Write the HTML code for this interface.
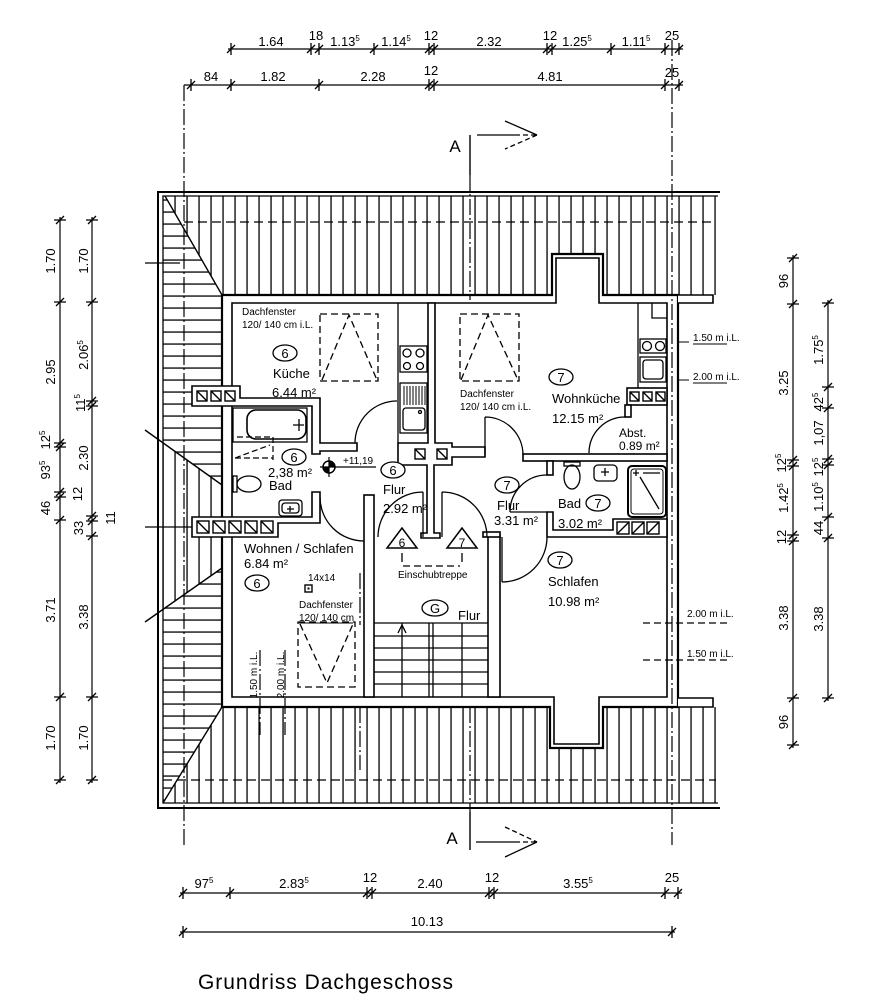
<!DOCTYPE html>
<html><head><meta charset="utf-8"><style>
html,body{margin:0;padding:0;background:#fff;}
svg{display:block;}
text{font-family:"Liberation Sans",Arial,sans-serif;fill:#000;}
</style></head><body>
<svg xmlns="http://www.w3.org/2000/svg" width="889" height="1000" viewBox="0 0 889 1000">
<defs>
<pattern id="pv" patternUnits="userSpaceOnUse" width="12" height="12"><rect x="6.4" y="0" width="1.3" height="12" fill="#000"/></pattern>
<pattern id="ph" patternUnits="userSpaceOnUse" width="12" height="12"><rect x="0" y="7.4" width="12" height="1.3" fill="#000"/></pattern>
<g id="th"><path d="M0,-6V6M-4,4L4,-4" stroke="#000" stroke-width="1.3" fill="none"/></g>
<g id="tv"><path d="M-6,0H6M-4,4L4,-4" stroke="#000" stroke-width="1.3" fill="none"/></g>
</defs>
<rect width="889" height="1000" fill="#fff"/>

<!-- roof hatching -->
<polygon points="165,196 716,196 716,295 603,295 603,254 552,254 552,295 222,295" fill="url(#pv)"/>
<polygon points="163,196 165,196 222,295 222,485 163,443" fill="url(#ph)"/>
<polygon points="163,443 222,485 222,568 163,609" fill="url(#pv)"/>
<polygon points="163,609 222,568 222,707 163,803" fill="url(#ph)"/>
<polygon points="222,707 550,707 550,748 603,748 603,707 716,707 716,803 163,803" fill="url(#pv)"/>
<g stroke="#000" fill="none">
<path d="M720,192H158V808H720" stroke-width="2"/>
<path d="M718,196H163V803H718" stroke-width="1.3"/>
<path d="M165,196L222,295M222,707L163,803M145,430L222,485M145,622L222,568" stroke-width="1.4"/>
<path d="M145,263H180M145,527H192" stroke-width="1.2"/>
<path d="M184,222H716M163,780H716" stroke-width="1.2" stroke-dasharray="9,5"/>
</g>

<!-- house shell -->
<path d="M222,295H552V254H603V295H678V707H603V748H550V707H222Z" fill="#fff" stroke="#000" stroke-width="2.2"/>
<path d="M232,303H556V258H599V303H667V697H599V744H554V697H232Z" fill="none" stroke="#000" stroke-width="1.6"/>
<path d="M678,295H713V303H678M678,698H713V707H678" fill="#fff" stroke="#000" stroke-width="1.6"/>

<!-- grid / axis lines -->
<g stroke="#000" stroke-width="1.2" fill="none" stroke-dasharray="16,3,2,3">
<path d="M184,85V845"/>
<path d="M672,40V845"/>
<path d="M470,175V300M470,707V812"/>
<path d="M360,573V625M360,707V770"/>
<path d="M260,650V735M285,650V735"/>
</g>
<path d="M470,135V175M470,812V850" stroke="#000" stroke-width="1.4"/>

<!-- interior walls -->
<g fill="#fff" stroke="#000" stroke-width="1.6">
<path d="M192,386H240V398H320V443H357V451H320V454H312V406H192Z"/>
<path d="M192,517H312V492H320V523H278V537H192Z"/>
<path d="M428,303H435V443H452V447H485V457H452V465H434V533H440V538H421V533H427V465H398V443H428Z"/>
<rect x="364" y="495" width="10" height="202"/>
<rect x="488" y="535" width="12" height="162"/>
<rect x="483" y="532" width="17" height="5"/>
<rect x="523" y="454" width="144" height="7"/>
<rect x="627" y="388" width="40" height="17"/>
<rect x="625" y="405" width="6" height="12"/>
<rect x="547" y="461" width="6" height="14"/>
<path d="M547,512H553V530H613V519H667V537H547Z"/>
</g>
<!-- flue squares -->
<g fill="#fff" stroke="#000" stroke-width="1.4">
<rect x="197" y="391" width="10" height="10"/><rect x="211" y="391" width="10" height="10"/><rect x="225" y="391" width="10" height="10"/>
<path d="M197,391l10,10M211,391l10,10M225,391l10,10"/>
<rect x="197" y="521" width="12" height="12"/><rect x="213" y="521" width="12" height="12"/><rect x="229" y="521" width="12" height="12"/><rect x="245" y="521" width="12" height="12"/><rect x="261" y="521" width="12" height="12"/>
<path d="M197,521l12,12M213,521l12,12M229,521l12,12M245,521l12,12M261,521l12,12"/>
<rect x="415" y="449" width="10" height="10"/><rect x="437" y="449" width="10" height="10"/>
<path d="M415,449l10,10M437,449l10,10"/>
<rect x="630" y="392" width="9" height="9"/><rect x="643" y="392" width="9" height="9"/><rect x="656" y="392" width="9" height="9"/>
<path d="M630,392l9,9M643,392l9,9M656,392l9,9"/>
<rect x="617" y="522" width="12" height="12"/><rect x="632" y="522" width="12" height="12"/><rect x="647" y="522" width="12" height="12"/>
<path d="M617,534l12,-12M632,534l12,-12M647,534l12,-12"/>
</g>

<!-- doors -->
<g stroke="#000" stroke-width="1.3" fill="none">
<path d="M355,443A42,42 0 0,1 397,401"/>
<path d="M320,497A44,44 0 0,0 364,541"/>
<path d="M378,537A45,45 0 0,1 423,492M423,492V537"/>
<path d="M442,492A45,45 0 0,1 487,537M442,492V537"/>
<path d="M485,417A38,38 0 0,1 523,455M485,417V455"/>
<path d="M625,417A36,36 0 0,0 589,453"/>
<path d="M510,512A37,37 0 0,1 547,475M510,512H547"/>
<path d="M547,537A45,45 0 0,1 502,582M502,537V582"/>
</g>

<!-- kitchen fixtures -->
<g stroke="#000" stroke-width="1.3" fill="none">
<path d="M398,303V443"/>
<rect x="400" y="346" width="27" height="26"/>
<circle cx="407" cy="353" r="4"/><circle cx="420" cy="353" r="4"/><circle cx="407" cy="366" r="3.5"/><circle cx="420" cy="366" r="3.5"/>
<rect x="400" y="383" width="27" height="50"/>
<path d="M404,386V405M407,386V405M410,386V405M413,386V405M416,386V405M419,386V405M422,386V405M425,386V405" stroke-width="1"/>
<rect x="403" y="408" width="22" height="22" rx="3"/>
<circle cx="420" cy="412" r="1.5"/>
<!-- Wohnküche counter -->
<path d="M638,303V388M652,303V318H667"/>
<rect x="640" y="339" width="26" height="14"/>
<circle cx="647" cy="346" r="4.5"/><circle cx="660" cy="346" r="4.5"/>
<rect x="640" y="357" width="26" height="25"/>
<rect x="643" y="360" width="20" height="19" rx="3"/>
<!-- bath 6 -->
<rect x="233" y="408" width="74" height="34"/>
<rect x="247" y="410" width="59" height="29" rx="9" stroke-width="1.6"/>
<path d="M293,425H304M299,419V431"/>
<path d="M237,437H271M273,437V460M235,458H273M235,458L270,445" stroke-dasharray="6,3" stroke-width="1.2"/>
<rect x="233" y="476" width="4" height="16"/>
<ellipse cx="249" cy="484" rx="12" ry="8"/>
<rect x="279" y="500" width="23" height="16" rx="3"/>
<rect x="282" y="503" width="17" height="10" rx="3"/>
<path d="M287,509H294M290,506V512"/>
<!-- bath 7 -->
<rect x="564" y="462" width="16" height="4"/>
<ellipse cx="572" cy="477" rx="8" ry="12"/>
<rect x="594" y="465" width="23" height="16" rx="4"/>
<path d="M601,472H609M605,468V476"/>
<rect x="628" y="466" width="38" height="51" rx="4" stroke-width="2"/>
<rect x="631" y="469" width="32" height="45" rx="3" stroke-width="1"/>
<path d="M640,477L659,509M633,473H639M636,470V476M643,473H660"/>
</g>

<!-- Dachfenster dashed -->
<g stroke="#000" stroke-width="1.3" fill="none" stroke-dasharray="7,4">
<rect x="320" y="314" width="58" height="67"/>
<path d="M322,380L349,315L377,380"/>
<rect x="460" y="314" width="59" height="67"/>
<path d="M461,380L488,315L518,380"/>
<rect x="298" y="622" width="57" height="65"/>
<path d="M300,624L327,683L353,624"/>
<path d="M643,623H730M643,660H730"/>
<path d="M403,566H460"/>
</g>

<!-- stairs -->
<g stroke="#000" stroke-width="1.3" fill="none">
<path d="M374,623H488M374,636H488M374,648H488M374,660H488M374,672H488M374,684H488"/>
<path d="M402,623V697M462,623V697M429,623V697M433,623V697"/>
<path d="M398,633L402,625L406,633"/>
<!-- Einschubtreppe -->
<path d="M402,528L387,548H417Z M462,528L447,548H477Z" stroke-width="1.5"/>
<path d="M402,553V562M462,553V562"/>
</g>

<!-- level marker -->
<circle cx="329" cy="467" r="6" fill="#fff" stroke="#000" stroke-width="1.5"/>
<path d="M329,467L329,461A6,6 0 0,1 335,467ZM329,467L329,473A6,6 0 0,1 323,467Z" fill="#000"/>
<path d="M320,467H376M329,457V477" stroke="#000" stroke-width="1.2"/>
<text x="343" y="464" font-size="10">+11,19</text>

<!-- small square 14x14 -->
<rect x="305" y="585" width="7" height="7" fill="#fff" stroke="#000" stroke-width="1.4"/>
<rect x="307.5" y="587.5" width="2" height="2" fill="#000"/>

<!-- circled room numbers -->
<g fill="#fff" stroke="#000" stroke-width="1.3">
<ellipse cx="285" cy="353" rx="12" ry="8"/>
<ellipse cx="561" cy="377" rx="12" ry="8"/>
<ellipse cx="294" cy="457" rx="12" ry="8"/>
<ellipse cx="393" cy="470" rx="12" ry="8"/>
<ellipse cx="507" cy="485" rx="12" ry="8"/>
<ellipse cx="598" cy="503" rx="12" ry="8"/>
<ellipse cx="560" cy="560" rx="12" ry="8"/>
<ellipse cx="257" cy="583" rx="12" ry="8"/>
<ellipse cx="435" cy="608" rx="13" ry="8"/>
</g>
<g font-size="13" text-anchor="middle">
<text x="285" y="358">6</text><text x="561" y="382">7</text><text x="294" y="462">6</text>
<text x="393" y="475">6</text><text x="507" y="490">7</text><text x="598" y="508">7</text>
<text x="560" y="565">7</text><text x="257" y="588">6</text><text x="435" y="613">G</text>
<text x="402" y="547" font-size="12">6</text><text x="462" y="547" font-size="12">7</text>
</g>

<!-- room labels -->
<g font-size="13">
<text x="273" y="378">Küche</text>
<text x="272" y="397">6.44 m²</text>
<text x="552" y="403">Wohnküche</text>
<text x="552" y="423">12.15 m²</text>
<text x="268" y="477">2,38 m²</text>
<text x="269" y="490">Bad</text>
<text x="383" y="494">Flur</text>
<text x="383" y="513">2.92 m²</text>
<text x="497" y="510">Flur</text>
<text x="494" y="525">3.31 m²</text>
<text x="558" y="508">Bad</text>
<text x="558" y="528">3.02 m²</text>
<text x="548" y="586">Schlafen</text>
<text x="548" y="606">10.98 m²</text>
<text x="244" y="553">Wohnen / Schlafen</text>
<text x="244" y="568">6.84 m²</text>
<text x="458" y="620">Flur</text>
</g>
<g font-size="12">
<text x="619" y="437">Abst.</text>
<text x="619" y="450">0.89 m²</text>
</g>
<g font-size="10">
<text x="242" y="315">Dachfenster</text>
<text x="242" y="328">120/ 140 cm i.L.</text>
<text x="460" y="397">Dachfenster</text>
<text x="460" y="410">120/ 140 cm i.L.</text>
<text x="308" y="581">14x14</text>
<text x="299" y="608">Dachfenster</text>
<text x="299" y="621">120/ 140 cm</text>
<text x="398" y="578">Einschubtreppe</text>
<text x="687" y="617">2.00 m i.L.</text>
<text x="687" y="657">1.50 m i.L.</text>
<text x="693" y="341">1.50 m i.L.</text>
<text x="693" y="380">2.00 m i.L.</text>
<text transform="translate(257,675) rotate(-90)" text-anchor="middle">1.50 m i.L.</text>
<text transform="translate(284,675) rotate(-90)" text-anchor="middle">2.00 m i.L.</text>
</g>
<path d="M299,623H353M693,344H727M693,383H727M678,342H689M678,380H689" stroke="#000" stroke-width="1"/>

<!-- Section A -->
<text x="455" y="152" font-size="17" text-anchor="middle">A</text>
<g stroke="#000" stroke-width="1.3" fill="none">
<path d="M477,135H515M505,121L537,135"/>
<path d="M515,135H537M537,135L505,149" stroke-dasharray="5,3"/>
<path d="M476,842H515M537,842L505,857"/>
<path d="M515,842H537M505,827L537,842" stroke-dasharray="5,3"/>
</g>
<text x="452" y="844" font-size="17" text-anchor="middle">A</text>

<!-- dimension lines -->
<g stroke="#000" stroke-width="1.2" fill="none">
<path d="M228,49H683M184,85H683M180,893H682M180,932H675M793,255V748M828,300V701M60,217V783M92,217V783"/>
</g>
<use href="#th" x="231" y="49"/><use href="#th" x="311" y="49"/><use href="#th" x="319" y="49"/><use href="#th" x="374" y="49"/><use href="#th" x="429" y="49"/><use href="#th" x="434" y="49"/><use href="#th" x="547" y="49"/><use href="#th" x="552" y="49"/><use href="#th" x="611" y="49"/><use href="#th" x="665" y="49"/><use href="#th" x="679" y="49"/>
<use href="#th" x="191" y="85"/><use href="#th" x="231" y="85"/><use href="#th" x="319" y="85"/><use href="#th" x="429" y="85"/><use href="#th" x="434" y="85"/><use href="#th" x="665" y="85"/><use href="#th" x="679" y="85"/>
<use href="#th" x="183" y="893"/><use href="#th" x="230" y="893"/><use href="#th" x="367" y="893"/><use href="#th" x="372" y="893"/><use href="#th" x="489" y="893"/><use href="#th" x="494" y="893"/><use href="#th" x="665" y="893"/><use href="#th" x="678" y="893"/>
<use href="#th" x="183" y="932"/><use href="#th" x="672" y="932"/>
<use href="#tv" x="793" y="258"/><use href="#tv" x="793" y="304"/><use href="#tv" x="793" y="460"/><use href="#tv" x="793" y="466"/><use href="#tv" x="793" y="535"/><use href="#tv" x="793" y="541"/><use href="#tv" x="793" y="698"/><use href="#tv" x="793" y="745"/>
<use href="#tv" x="828" y="303"/><use href="#tv" x="828" y="387"/><use href="#tv" x="828" y="408"/><use href="#tv" x="828" y="459"/><use href="#tv" x="828" y="465"/><use href="#tv" x="828" y="517"/><use href="#tv" x="828" y="538"/><use href="#tv" x="828" y="698"/>
<use href="#tv" x="60" y="220"/><use href="#tv" x="60" y="302"/><use href="#tv" x="60" y="443"/><use href="#tv" x="60" y="447"/><use href="#tv" x="60" y="492"/><use href="#tv" x="60" y="497"/><use href="#tv" x="60" y="520"/><use href="#tv" x="60" y="697"/><use href="#tv" x="60" y="780"/>
<use href="#tv" x="92" y="220"/><use href="#tv" x="92" y="302"/><use href="#tv" x="92" y="401"/><use href="#tv" x="92" y="406"/><use href="#tv" x="92" y="516"/><use href="#tv" x="92" y="521"/><use href="#tv" x="92" y="536"/><use href="#tv" x="92" y="697"/><use href="#tv" x="92" y="780"/>

<g font-size="13" text-anchor="middle">
<!-- top -->
<text x="271" y="46">1.64</text><text x="316" y="40">18</text>
<text x="345" y="46">1.13<tspan font-size="8" dy="-5">5</tspan></text>
<text x="396" y="46">1.14<tspan font-size="8" dy="-5">5</tspan></text>
<text x="431" y="40">12</text><text x="489" y="46">2.32</text><text x="550" y="40">12</text>
<text x="577" y="46">1.25<tspan font-size="8" dy="-5">5</tspan></text>
<text x="636" y="46">1.11<tspan font-size="8" dy="-5">5</tspan></text>
<text x="672" y="40">25</text>
<text x="211" y="81">84</text><text x="273" y="81">1.82</text><text x="373" y="81">2.28</text>
<text x="431" y="75">12</text><text x="550" y="81">4.81</text><text x="672" y="77">25</text>
<!-- bottom -->
<text x="204" y="888">97<tspan font-size="8" dy="-5">5</tspan></text>
<text x="294" y="888">2.83<tspan font-size="8" dy="-5">5</tspan></text>
<text x="370" y="882">12</text><text x="430" y="888">2.40</text><text x="492" y="882">12</text>
<text x="578" y="888">3.55<tspan font-size="8" dy="-5">5</tspan></text>
<text x="672" y="882">25</text>
<text x="427" y="926">10.13</text>
<!-- right -->
<text transform="translate(788,281) rotate(-90)">96</text>
<text transform="translate(788,383) rotate(-90)">3.25</text>
<text transform="translate(786,463) rotate(-90)">12<tspan font-size="8" dy="-5">5</tspan></text>
<text transform="translate(788,498) rotate(-90)">1.42<tspan font-size="8" dy="-5">5</tspan></text>
<text transform="translate(786,537) rotate(-90)">12</text>
<text transform="translate(788,618) rotate(-90)">3.38</text>
<text transform="translate(788,722) rotate(-90)">96</text>
<text transform="translate(823,350) rotate(-90)">1.75<tspan font-size="8" dy="-5">5</tspan></text>
<text transform="translate(823,402) rotate(-90)">42<tspan font-size="8" dy="-5">5</tspan></text>
<text transform="translate(823,433) rotate(-90)">1,07</text>
<text transform="translate(823,467) rotate(-90)">12<tspan font-size="8" dy="-5">5</tspan></text>
<text transform="translate(823,497) rotate(-90)">1.10<tspan font-size="8" dy="-5">5</tspan></text>
<text transform="translate(823,528) rotate(-90)">44</text>
<text transform="translate(823,619) rotate(-90)">3.38</text>
<!-- left -->
<text transform="translate(55,261) rotate(-90)">1.70</text>
<text transform="translate(55,372) rotate(-90)">2.95</text>
<text transform="translate(50,440) rotate(-90)">12<tspan font-size="8" dy="-5">5</tspan></text>
<text transform="translate(50,470) rotate(-90)">93<tspan font-size="8" dy="-5">5</tspan></text>
<text transform="translate(82,494) rotate(-90)">12</text>
<text transform="translate(50,508) rotate(-90)">46</text>
<text transform="translate(55,610) rotate(-90)">3.71</text>
<text transform="translate(55,738) rotate(-90)">1.70</text>
<text transform="translate(88,261) rotate(-90)">1.70</text>
<text transform="translate(88,355) rotate(-90)">2.06<tspan font-size="8" dy="-5">5</tspan></text>
<text transform="translate(85,403) rotate(-90)">11<tspan font-size="8" dy="-5">5</tspan></text>
<text transform="translate(88,458) rotate(-90)">2.30</text>
<text transform="translate(115,518) rotate(-90)">11</text>
<text transform="translate(83,528) rotate(-90)">33</text>
<text transform="translate(88,617) rotate(-90)">3.38</text>
<text transform="translate(88,738) rotate(-90)">1.70</text>
</g>

<text x="198" y="989" font-size="21" textLength="255" lengthAdjust="spacing">Grundriss Dachgeschoss</text>
</svg>
</body></html>
